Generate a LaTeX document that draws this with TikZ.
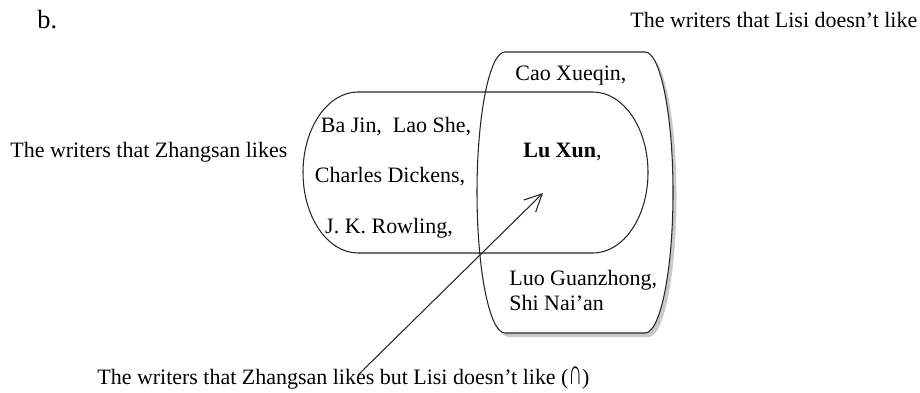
\documentclass[tikz,border=0pt]{standalone}
\usepackage{fontspec}
\setmainfont{Liberation Serif}
\usepackage{tikz}
\usetikzlibrary{shadows, arrows.meta}

\begin{document}
\begin{tikzpicture}[
    txt/.style={inner sep=0pt, anchor=base west, font=\fontsize{12.5}{14}\selectfont},
    set_line/.style={draw=black!85, line width=0.6pt},
    set_shadow/.style={fill=white, drop shadow={shadow xshift=0.07cm, shadow yshift=-0.08cm, opacity=0.3, fill=black!70}},
    arrow_style/.style={draw=black!85, line width=0.6pt, -{Straight Barb[length=3.5mm, width=3.4mm]}}
]

\useasboundingbox (0,0) rectangle (18.4,7.84);

% Set of Lisi (drawn first, with shadow)
\draw[set_line, set_shadow] (10.10,6.80) -- (12.90,6.80)
    arc[start angle=90, end angle=-90, x radius=0.56, y radius=2.81]
    -- (10.10,1.18)
    arc[start angle=270, end angle=90, x radius=0.56, y radius=2.81] -- cycle;

% Set of Zhangsan
\draw[set_line] (7.16,6.00) -- (11.86,6.00)
    arc[start angle=90, end angle=-90, x radius=1.10, y radius=1.61]
    -- (7.16,2.78)
    arc[start angle=270, end angle=90, x radius=1.10, y radius=1.61] -- cycle;

% Headings
\node[txt, font=\fontsize{15}{16}\selectfont] (label_b) at (0.74,7.28) {b.};
\node[txt] (lisi_label) at (12.60,7.30) {The writers that Lisi doesn't like};
\node[txt] (zhang_label) at (0.20,4.70) {The writers that Zhangsan likes};
\node[txt] (both_label) at (1.94,0.16) {The writers that Zhangsan likes but Lisi doesn't like (\scalebox{0.85}[1.6]{∩})};

% Writers in the sets
\node[txt] (cao) at (10.30,6.24) {Cao Xueqin,};
\node[txt, anchor=base] (bajin) at (7.92,5.20) {Ba Jin,\ \ Lao She,};
\node[txt] (luxun) at (10.46,4.70) {\textbf{Lu Xun},};
\node[txt, anchor=base] (dickens) at (7.80,4.20) {Charles Dickens,};
\node[txt, anchor=base] (rowling) at (7.78,3.18) {J. K. Rowling,};
\node[txt] (luo) at (10.18,2.14) {Luo Guanzhong,};
\node[txt] (shi) at ([yshift=-0.5cm]luo.base west) {Shi Nai'an};

% Arrow to the common part
\coordinate (arrow_foot) at (7.16,0.34);
\coordinate (arrow_tip) at (10.86,3.98);
\draw[arrow_style] (arrow_foot) -- (arrow_tip);

\end{tikzpicture}
\end{document}
